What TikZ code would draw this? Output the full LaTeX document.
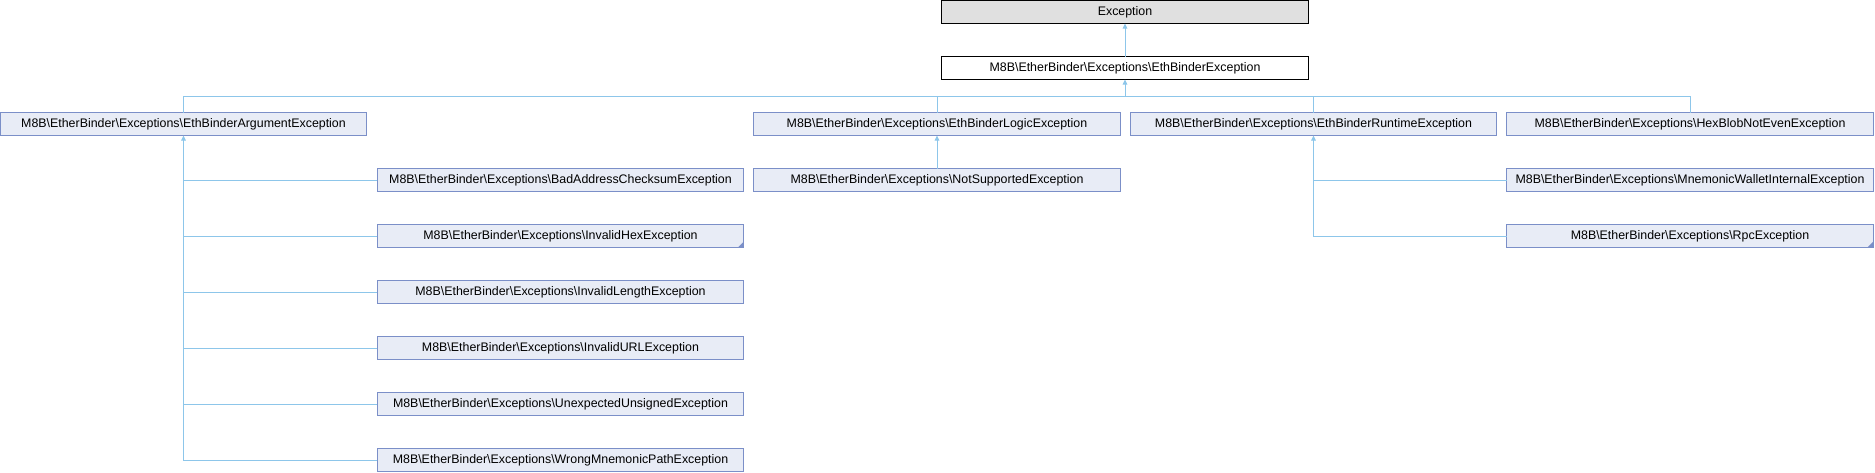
\documentclass[tikz,border=0pt]{standalone}
\usepackage{fontspec}
\setmainfont{Liberation Sans}
\usepackage{tikz}
\usetikzlibrary{positioning}
\usetikzlibrary{shapes,arrows,calc,arrows.meta}

\definecolor{clsfill}{HTML}{E8ECF6}
\definecolor{clsline}{HTML}{7B8FC8}
\definecolor{edgeline}{HTML}{8DC6EA}
\definecolor{rootfill}{HTML}{E0E0E0}

\tikzset{
  box/.style={draw, rectangle, line width=1pt, minimum width=366.5pt, minimum height=23pt,
    inner sep=0pt, outer sep=0pt, font=\fontsize{12.4}{14}\selectfont},
  cls/.style={box, draw=clsline, fill=clsfill},
  trunc/.style={path picture={\fill[clsline] (path picture bounding box.south east)
    -- ++(-6pt,0) -- ++(6pt,6pt) -- cycle;}},
  link/.style={draw=edgeline, line width=1pt},
  inh/.style={link, -{Triangle[length=5pt,width=4.5pt]}}
}

\begin{document}
\begin{tikzpicture}[x=1pt, y=1pt, node distance=33pt]
  \useasboundingbox (0,0) rectangle (1875,-472);

  % Nodes
  \node [box, fill=rootfill, draw=black] (exc) at (1125,-12) {Exception};
  \node [box, fill=white, draw=black, below=of exc] (ebex) {M8B\textbackslash EtherBinder\textbackslash Exceptions\textbackslash EthBinderException};

  \node [cls] (argex) at (183.5,-124) {M8B\textbackslash EtherBinder\textbackslash Exceptions\textbackslash EthBinderArgumentException};
  \node [cls, right=387pt of argex] (logicex) {M8B\textbackslash EtherBinder\textbackslash Exceptions\textbackslash EthBinderLogicException};
  \node [cls, right=10pt of logicex] (runex) {M8B\textbackslash EtherBinder\textbackslash Exceptions\textbackslash EthBinderRuntimeException};
  \node [cls, right=10pt of runex] (hexex) {M8B\textbackslash EtherBinder\textbackslash Exceptions\textbackslash HexBlobNotEvenException};

  \node [cls, below right=33pt and 10.5pt of argex.south east, anchor=north west] (badex) {M8B\textbackslash EtherBinder\textbackslash Exceptions\textbackslash BadAddressChecksumException};
  \node [cls, trunc, below=of badex] (hexinv) {M8B\textbackslash EtherBinder\textbackslash Exceptions\textbackslash InvalidHexException};
  \node [cls, below=of hexinv] (lenex) {M8B\textbackslash EtherBinder\textbackslash Exceptions\textbackslash InvalidLengthException};
  \node [cls, below=of lenex] (urlex) {M8B\textbackslash EtherBinder\textbackslash Exceptions\textbackslash InvalidURLException};
  \node [cls, below=of urlex] (unsex) {M8B\textbackslash EtherBinder\textbackslash Exceptions\textbackslash UnexpectedUnsignedException};
  \node [cls, below=of unsex] (pathex) {M8B\textbackslash EtherBinder\textbackslash Exceptions\textbackslash WrongMnemonicPathException};

  \node [cls, below=of logicex] (notsup) {M8B\textbackslash EtherBinder\textbackslash Exceptions\textbackslash NotSupportedException};

  \node [cls, below=of hexex] (mnemex) {M8B\textbackslash EtherBinder\textbackslash Exceptions\textbackslash MnemonicWalletInternalException};
  \node [cls, trunc, below=of mnemex] (rpcex) {M8B\textbackslash EtherBinder\textbackslash Exceptions\textbackslash RpcException};

  % Bus
  \coordinate (bus) at ($(ebex.south)+(0,-17)$);

  % Arrows
  \draw [inh] (ebex) -- (exc);
  \draw [inh] (bus) -- (ebex);
  \draw [link] (argex.north) |- (bus) -| (hexex.north);
  \draw [link] (logicex.north) -- (logicex.north |- bus);
  \draw [link] (runex.north) -- (runex.north |- bus);

  \draw [inh] (pathex.west) -| (argex.south);
  \foreach \kid in {badex, hexinv, lenex, urlex, unsex}
    \draw [link] (\kid.west) -- (\kid.west -| argex.south);

  \draw [inh] (notsup) -- (logicex);

  \draw [inh] (rpcex.west) -| (runex.south);
  \draw [link] (mnemex.west) -- (mnemex.west -| runex.south);
\end{tikzpicture}
\end{document}
